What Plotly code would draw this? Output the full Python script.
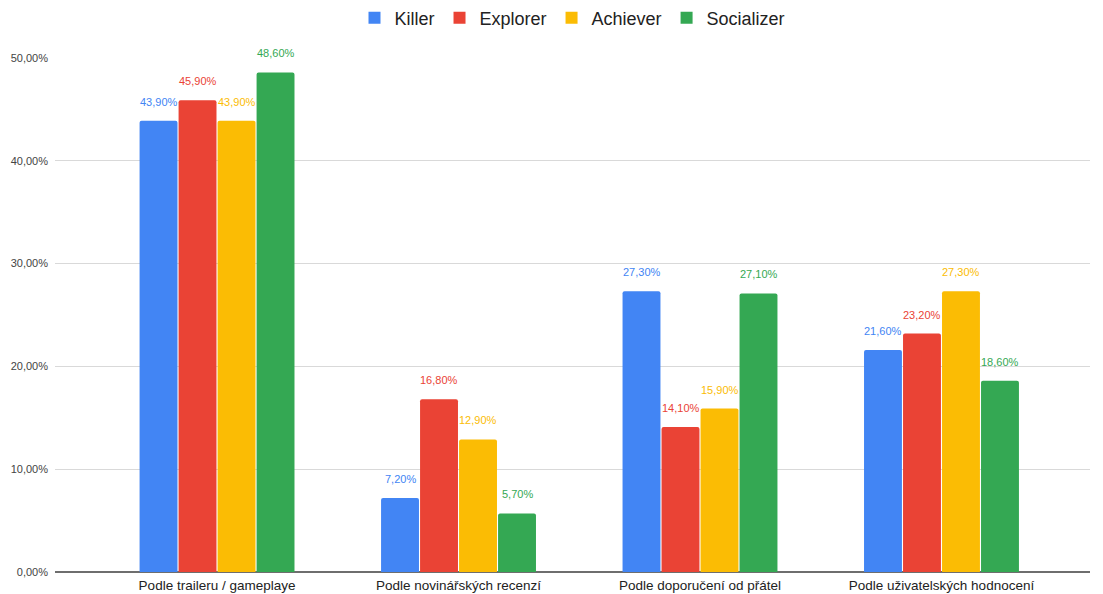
import plotly.graph_objects as go

categories = [
    "Podle traileru / gameplaye",
    "Podle novinářských recenzí",
    "Podle doporučení od přátel",
    "Podle uživatelských hodnocení",
]
series_names = ["Killer", "Explorer", "Achiever", "Socializer"]
killer = [43.9, 7.2, 27.3, 21.6]
explorer = [45.9, 16.8, 14.1, 23.2]
achiever = [43.9, 12.9, 15.9, 27.3]
socializer = [48.6, 5.7, 27.1, 18.6]
y_ticks = [0, 10, 20, 30, 40, 50]

colors = ["#4285F4", "#EA4335", "#FBBC04", "#34A853"]
series_values = [killer, explorer, achiever, socializer]

x_pos = list(range(len(categories)))
slot = 0.1615
bar_w = 0.157
font_family = "Liberation Sans, Arial, sans-serif"

fig = go.Figure()
annotations = []
for k, (name, vals, col) in enumerate(zip(series_names, series_values, colors)):
    centre = (k - 1.5) * slot
    fig.add_trace(go.Bar(
        x=x_pos,
        y=[v / 100 for v in vals],
        name=name,
        legendgroup=name,
        showlegend=False,
        width=bar_w,
        offset=centre - bar_w / 2,
        marker=dict(color=col, line=dict(width=0), cornerradius=2),
        hovertemplate="%{y:.2%}<extra>" + name + "</extra>",
    ))
    # square swatch for the legend entry
    fig.add_trace(go.Scatter(
        x=[None], y=[None], mode="markers", name=name, legendgroup=name,
        marker=dict(symbol="square", size=12, color=col),
        showlegend=True, hoverinfo="skip",
    ))
    for i, v in enumerate(vals):
        annotations.append(dict(
            x=i + centre, y=v / 100, xref="x", yref="y",
            text=f"{v:.2f}".replace(".", ",") + "%",
            showarrow=False, yanchor="bottom", yshift=11,
            font=dict(size=11, color=col, family=font_family),
        ))

fig.update_layout(
    width=1103, height=594,
    margin=dict(l=55, r=13, t=58, b=22, autoexpand=False),
    paper_bgcolor="white", plot_bgcolor="white",
    separators=", ",
    font=dict(family=font_family),
    barmode="overlay",
    showlegend=True,
    legend=dict(
        orientation="h", x=0.5, xanchor="center",
        yref="container", y=1 - 18 / 594, yanchor="middle",
        font=dict(size=18, color="#222"),
        itemwidth=30, traceorder="normal",
    ),
    annotations=annotations,
    xaxis=dict(
        tickmode="array", tickvals=x_pos, ticktext=categories,
        range=[-0.671, 3.615], showgrid=False, zeroline=False,
        ticks="", tickfont=dict(size=13.5, color="#222"),
        ticklabelstandoff=3,
        showline=False, fixedrange=True, automargin=False,
    ),
    yaxis=dict(
        range=[0, 0.5], tickmode="array", tickvals=[t / 100 for t in y_ticks],
        tickformat=".2%", tickfont=dict(size=11, color="#444"),
        gridcolor="#d9d9d9", gridwidth=1, zeroline=True,
        zerolinecolor="#6e6e6e", zerolinewidth=1.5, ticks="",
        ticklabelstandoff=6, showline=False, fixedrange=True, automargin=False,
    ),
)

fig.write_html("out.html")
